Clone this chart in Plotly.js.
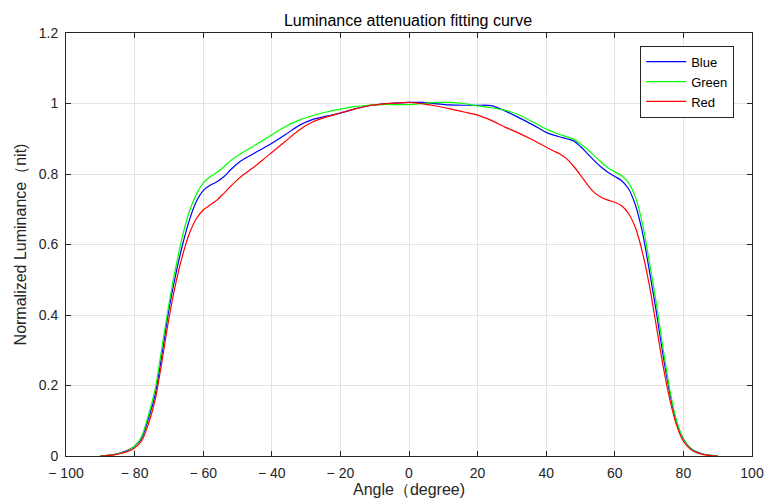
<!DOCTYPE html>
<html><head><meta charset="utf-8">
<script src="https://cdn.plot.ly/plotly-3.0.1.min.js"></script>
<style>html,body{margin:0;padding:0;background:#fff}#chart{width:764px;height:499px}</style>
</head><body><div id="chart"></div>
<script>
const angles = [-90,-88,-86,-84,-82,-80,-78,-76,-74,-72,-70,-68,-66,-64,-62,-60,-58,-56,-54,-52,-50,-48,-46,-44,-42,-40,
  -36,-32,-28,-24,-20,-16,-12,-8,-4,0,4,8,12,16,20,24,28,32,36,
  40,42,44,46,48,50,52,54,56,58,60,62,64,66,68,70,72,74,76,78,80,82,84,86,88,90];
const blue = [0,0.002,0.004,0.009,0.016,0.028,0.05,0.105,0.175,0.29,0.415,0.515,0.60,0.67,0.722,0.753,0.768,0.778,0.792,0.812,0.83,0.843,0.854,0.865,0.876,0.887,
  0.912,0.938,0.955,0.964,0.973,0.984,0.993,0.998,1.001,1.003,1.003,0.999,0.996,0.995,0.995,0.994,0.979,0.96,0.94,
  0.918,0.911,0.905,0.9,0.894,0.878,0.858,0.838,0.82,0.805,0.793,0.781,0.758,0.712,0.637,0.53,0.415,0.29,0.18,0.097,0.048,0.023,0.011,0.005,0.002,0];
const green = [0,0.002,0.004,0.008,0.015,0.028,0.054,0.115,0.19,0.31,0.43,0.535,0.625,0.695,0.742,0.774,0.792,0.805,0.82,0.838,0.852,0.864,0.875,0.887,0.899,0.911,
  0.935,0.953,0.966,0.976,0.984,0.991,0.995,0.997,0.997,0.997,1.0,1.003,1.003,1.0,0.993,0.988,0.981,0.968,0.948,
  0.928,0.919,0.912,0.906,0.899,0.886,0.87,0.852,0.834,0.818,0.806,0.795,0.775,0.735,0.662,0.555,0.44,0.31,0.19,0.1,0.048,0.022,0.01,0.005,0.002,0];
const red = [0,0.001,0.003,0.007,0.013,0.023,0.042,0.09,0.16,0.27,0.39,0.49,0.57,0.632,0.673,0.698,0.712,0.726,0.745,0.765,0.784,0.8,0.814,0.829,0.845,0.861,
  0.893,0.925,0.948,0.962,0.973,0.984,0.993,0.998,1.001,1.003,0.999,0.993,0.985,0.976,0.967,0.952,0.933,0.916,0.897,
  0.876,0.866,0.857,0.843,0.822,0.797,0.77,0.748,0.734,0.726,0.72,0.71,0.688,0.648,0.58,0.488,0.375,0.26,0.162,0.088,0.042,0.02,0.009,0.004,0.001,0];
const xTickVals = [-100,-80,-60,-40,-20,0,20,40,60,80,100];
const xTickText = ["\u2212 100","\u2212 80","\u2212 60","\u2212 40","\u2212 20","0","20","40","60","80","100"];
const names = ["Blue","Green","Red"];
const colors = ["#0000ff","#00ff00","#ff0000"];
const series = [blue, green, red];

const FONT = 'Liberation Sans, Arial, sans-serif';
const traces = series.map((s,i)=>({
  x: angles, y: s, type:'scatter', mode:'lines', name: names[i],
  line:{color:colors[i], width:1.2, shape:'spline', smoothing:0.8}
}));

const axisCommon = {
  showline:true, linecolor:'#262626', linewidth:1, mirror:'ticks',
  ticks:'inside', ticklen:5, tickcolor:'#262626',
  showgrid:true, gridcolor:'#e3e3e3', gridwidth:1,
  tickfont:{family:FONT, size:14, color:'#262626'}
};

const layout = {
  width:764, height:499,
  margin:{l:66, r:12, t:33, b:43},
  paper_bgcolor:'#fff', plot_bgcolor:'#fff',
  font:{family:FONT, color:'#262626'},
  title:{text:'Luminance attenuation fitting curve', x:0.534, xanchor:'center', y:0.96, yanchor:'middle',
    font:{family:FONT, size:16, color:'#000'}},
  xaxis: Object.assign({}, axisCommon, {
    range:[-100,100], tickvals:xTickVals, ticktext:xTickText, zeroline:false, ticklabelstandoff:4,
    title:{text:'Angle（degree)', standoff:0, font:{family:FONT, size:16, color:'#262626'}}
  }),
  yaxis: Object.assign({}, axisCommon, {
    range:[0,1.2], dtick:0.2, tick0:0, zeroline:true, zerolinecolor:'#8c8c8c', zerolinewidth:2, ticklabelstandoff:4,
    title:{text:'Normalized Luminance（nit)', standoff:8, font:{family:FONT, size:16, color:'#262626'}}
  }),
  legend:{x:0.837, y:0.97, xanchor:'left', yanchor:'top', bgcolor:'#fff',
    bordercolor:'#262626', borderwidth:1, tracegroupgap:0, itemwidth:40,
    font:{family:FONT, size:13, color:'#000'}},
  showlegend:true
};
Plotly.newPlot('chart', traces, layout, {displayModeBar:false, staticPlot:true});
</script></body></html>
